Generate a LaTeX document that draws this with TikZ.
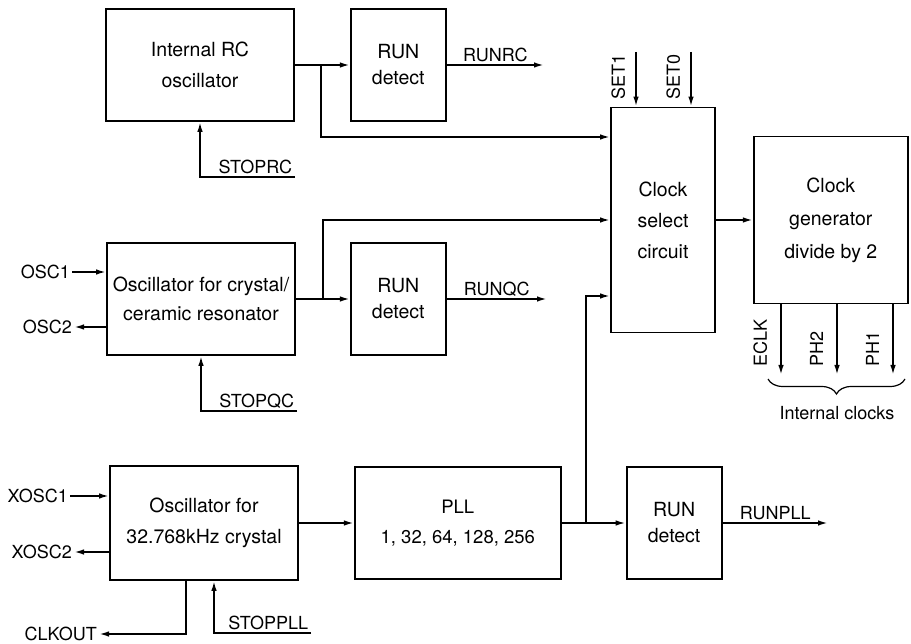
\documentclass[tikz,border=0pt]{standalone}
\usepackage{fontspec}
\setmainfont{TeX Gyre Heros}
\usetikzlibrary{positioning,arrows.meta,decorations.pathreplacing}
\newcommand\blkfont{\fontsize{19.5}{31}\selectfont}
\newcommand\sigfont{\fontsize{18}{20}\selectfont}
\tikzset{
  blk/.style={draw, line width=1.8pt, align=center, minimum width=188pt,
    minimum height=112pt, inner sep=0pt, font=\blkfont},
  runbox/.style={blk, minimum width=95pt, font=\fontsize{19.5}{26}\selectfont},
  sig/.style={font=\sigfont, inner sep=2pt},
  wire/.style={line width=1.8pt, -{Latex[length=10pt,width=5.5pt]}},
}
\begin{document}
\begin{tikzpicture}[x=1pt, y=-1pt, node distance=55pt]
\useasboundingbox (0,0) rectangle (911,644);
% oscillators and run detectors
\node[blk] (rc) at (200,65) {Internal RC\\oscillator};
\node[runbox, right=55pt of rc] (runrc) {RUN\\detect};
\node[blk, font=\fontsize{19.5}{29}\selectfont] (qc) at (201,299) {Oscillator for crystal/\\ceramic resonator};
\node[runbox, right=54pt of qc] (runqc) {RUN\\detect};
\node[blk, minimum height=114pt] (xo) at (204,523) {Oscillator for\\32.768kHz crystal};
\node[blk, minimum width=206pt, font=\fontsize{18.5}{30}\selectfont, right=55pt of xo] (pll) {PLL\\1, 32, 64, 128, 256};
\node[runbox, right=64pt of pll] (runpll) {RUN\\detect};
% clock select and generator
\node[blk, minimum width=104pt, minimum height=225pt] (sel) at (663,220) {Clock\\select\\circuit};
\node[blk, minimum width=154pt, minimum height=167pt, font=\fontsize{19.5}{33}\selectfont, right=37pt of sel] (gen) {Clock\\generator\\divide by 2};

% free ends
\coordinate (rcout) at (544,65);
\coordinate (qcout) at (547,299);
\coordinate (pllout) at (828,523);
\coordinate (brrc) at (321,65);
\coordinate (brqc) at (323,299);
\coordinate (brpll) at (586,523);
\coordinate (stoprc) at (295,177);
\coordinate (stopqc) at (297,411);
\coordinate (stoppll) at (311,633);
\coordinate (set1) at (636,52);
\coordinate (set0) at (691,52);
\coordinate (eclk) at (781,375);
\coordinate (ph2) at (837,375);
\coordinate (ph1) at (893,375);

% external pins
\node[sig, anchor=east] (osc1) at (72,272) {OSC1};
\node[sig, anchor=east] (osc2) at (74,327) {OSC2};
\node[sig, anchor=east] (xosc1) at (70,496) {XOSC1};
\node[sig, anchor=east] (xosc2) at (74,552) {XOSC2};
\node[sig, anchor=east] (clkout) at (99,634) {CLKOUT};

% RC row
\draw[wire] (rc) -- (runrc);
\draw[wire] (runrc) -- node[sig, above] {RUNRC} (rcout);
\draw[wire] (brrc) |- ([yshift=83pt]sel.west);
\draw[wire] (stoprc) -| node[sig, above left, pos=0] {STOPRC} (rc.south);

% crystal/ceramic row
\draw[wire] (osc1) -- (osc1 -| qc.west);
\draw[wire] (osc2 -| qc.west) -- (osc2);
\draw[wire] (qc) -- (runqc);
\draw[wire] (runqc) -- node[sig, above] {RUNQC} (qcout);
\draw[wire] (brqc) |- (sel.west);
\draw[wire] (stopqc) -| node[sig, above left, pos=0] {STOPQC} (qc.south);

% 32.768kHz row
\draw[wire] (xosc1) -- (xosc1 -| xo.west);
\draw[wire] (xosc2 -| xo.west) -- (xosc2);
\draw[wire] (xo) -- (pll);
\draw[wire] (pll) -- (runpll);
\draw[wire] (runpll) -- node[sig, above] {RUNPLL} (pllout);
\draw[wire] (brpll) |- ([yshift=-76pt]sel.west);
\draw[wire] ([xshift=-18pt]xo.south) |- (clkout);
\draw[wire] (stoppll) -| node[sig, above left, pos=0] {STOPPLL} ([xshift=10pt]xo.south);

% select inputs and clock outputs
\draw[wire] (set1) node[sig, rotate=90, anchor=south east, inner ysep=10pt] {SET1} -- (set1 |- sel.north);
\draw[wire] (set0) node[sig, rotate=90, anchor=south east, inner ysep=10pt] {SET0} -- (set0 |- sel.north);
\draw[wire] (sel) -- (gen);
\draw[wire] (eclk |- gen.south) -- (eclk) node[sig, rotate=90, anchor=south west, inner xsep=8pt, inner ysep=13pt] {ECLK};
\draw[wire] (ph2 |- gen.south) -- (ph2) node[sig, rotate=90, anchor=south west, inner xsep=8pt, inner ysep=13pt] {PH2};
\draw[wire] (ph1 |- gen.south) -- (ph1) node[sig, rotate=90, anchor=south west, inner xsep=8pt, inner ysep=13pt] {PH1};
\draw[line width=1.2pt, decorate, decoration={brace, amplitude=15pt}] (905,379) -- (768,379);
\node[sig] (clocks) at (837,413) {Internal clocks};
\end{tikzpicture}
\end{document}
